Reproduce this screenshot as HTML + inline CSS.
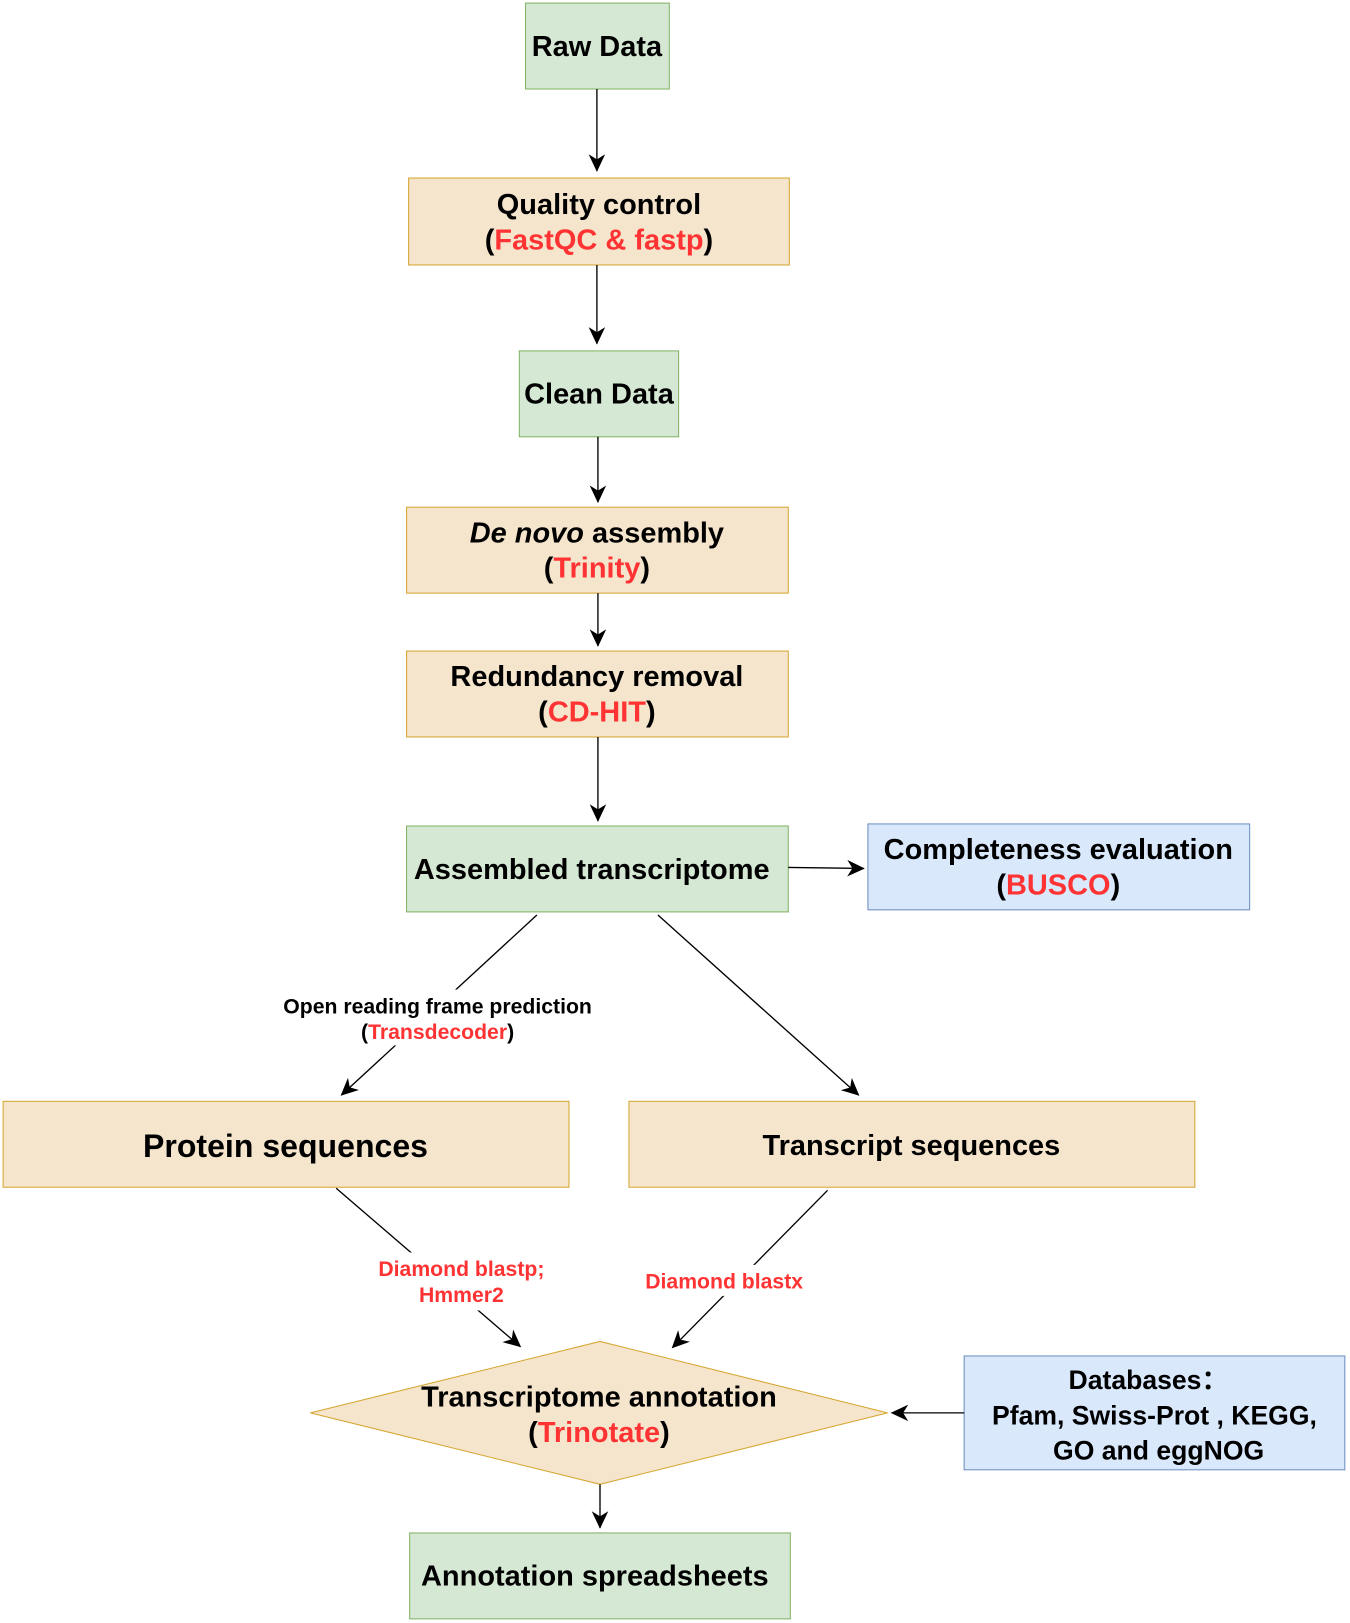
<!DOCTYPE html>
<html><head><meta charset="utf-8"><style>
html,body{margin:0;padding:0;background:#fff;}
svg{display:block;}
text{font-family:"Liberation Sans",Arial,sans-serif;font-weight:bold;text-anchor:middle;fill:#000;}
.r{fill:#ff3333;}
</style></head><body>
<svg width="1350" height="1623" viewBox="0 0 1305 1568" preserveAspectRatio="none" xmlns="http://www.w3.org/2000/svg">
<defs>
<marker id="a" markerWidth="17" markerHeight="16" refX="16" refY="8" orient="auto" markerUnits="userSpaceOnUse">
<path d="M0,0 L17,8 L0,16 L5,8 z" fill="#000"/>
</marker>
</defs>
<g stroke-width="1">
<rect x="508" y="3" width="139" height="83" fill="#d5e8d4" stroke="#82b366"/>
<rect x="395" y="172" width="368" height="84" fill="#f5e5cc" stroke="#d6a630"/>
<rect x="502" y="339" width="154" height="83" fill="#d5e8d4" stroke="#82b366"/>
<rect x="393" y="490" width="369" height="83" fill="#f5e5cc" stroke="#d6a630"/>
<rect x="393" y="629" width="369" height="83" fill="#f5e5cc" stroke="#d6a630"/>
<rect x="393" y="798" width="369" height="83" fill="#d5e8d4" stroke="#82b366"/>
<rect x="839" y="796" width="369" height="83" fill="#dae8fc" stroke="#6c8ebf"/>
<rect x="3" y="1064" width="547" height="83" fill="#f5e5cc" stroke="#d6a630"/>
<rect x="608" y="1064" width="547" height="83" fill="#f5e5cc" stroke="#d6a630"/>
<polygon points="300,1365 580,1296 858,1365 580,1434" fill="#f5e5cc" stroke="#d6a630"/>
<rect x="932" y="1310" width="368" height="110" fill="#dae8fc" stroke="#6c8ebf"/>
<rect x="396" y="1481" width="368" height="83" fill="#d5e8d4" stroke="#82b366"/>
</g>
<g stroke="#000" stroke-width="1.3" marker-end="url(#a)">
<line x1="577" y1="86" x2="577" y2="165"/>
<line x1="577" y1="256" x2="577" y2="332"/>
<line x1="578" y1="422" x2="578" y2="485"/>
<line x1="578" y1="573" x2="578" y2="624"/>
<line x1="578" y1="712" x2="578" y2="793"/>
<line x1="762" y1="838" x2="835" y2="839"/>
<line x1="519" y1="884" x2="330" y2="1058"/>
<line x1="636" y1="884" x2="830" y2="1058"/>
<line x1="325" y1="1148" x2="503" y2="1301"/>
<line x1="800" y1="1150" x2="650" y2="1302"/>
<line x1="932" y1="1365" x2="862" y2="1365"/>
<line x1="580" y1="1434" x2="580" y2="1476"/>
</g>
<rect x="266" y="956" width="314" height="54" fill="#fff"/>
<rect x="358" y="1210" width="176" height="56" fill="#fff"/>
<rect x="618" y="1222" width="164" height="30" fill="#fff"/>
<text x="577" y="54" font-size="28">Raw Data</text>
<text x="579" y="207" font-size="28">Quality control</text>
<text x="579" y="241" font-size="28">(<tspan class="r">FastQC &amp; fastp</tspan>)</text>
<text x="579" y="390" font-size="28">Clean Data</text>
<text x="577" y="524" font-size="28"><tspan font-style="italic">De novo</tspan> assembly</text>
<text x="577" y="558" font-size="28">(<tspan class="r">Trinity</tspan>)</text>
<text x="577" y="663" font-size="28">Redundancy removal</text>
<text x="577" y="697" font-size="28">(<tspan class="r">CD-HIT</tspan>)</text>
<text x="572" y="849" font-size="28">Assembled transcriptome</text>
<text x="1023" y="830" font-size="28">Completeness evaluation</text>
<text x="1023" y="864" font-size="28">(<tspan class="r">BUSCO</tspan>)</text>
<text x="423" y="979" font-size="20.5">Open reading frame prediction</text>
<text x="423" y="1004" font-size="20.5">(<tspan class="r">Transdecoder</tspan>)</text>
<text x="276" y="1118" font-size="31">Protein sequences</text>
<text x="881" y="1116" font-size="28">Transcript sequences</text>
<text x="446" y="1233" font-size="20.5" class="r">Diamond blastp;</text>
<text x="446" y="1258" font-size="20.5" class="r">Hmmer2</text>
<text x="700" y="1245" font-size="20.5" class="r">Diamond blastx</text>
<text x="579" y="1359" font-size="28">Transcriptome annotation</text>
<text x="579" y="1393" font-size="28">(<tspan class="r">Trinotate</tspan>)</text>
<text x="1110" y="1342" font-size="25.7">Databases：</text>
<text x="1116" y="1376" font-size="25.7">Pfam, Swiss-Prot , KEGG,</text>
<text x="1120" y="1410" font-size="25.7">GO and eggNOG</text>
<text x="575" y="1532" font-size="28">Annotation spreadsheets</text>
</svg>
</body></html>
